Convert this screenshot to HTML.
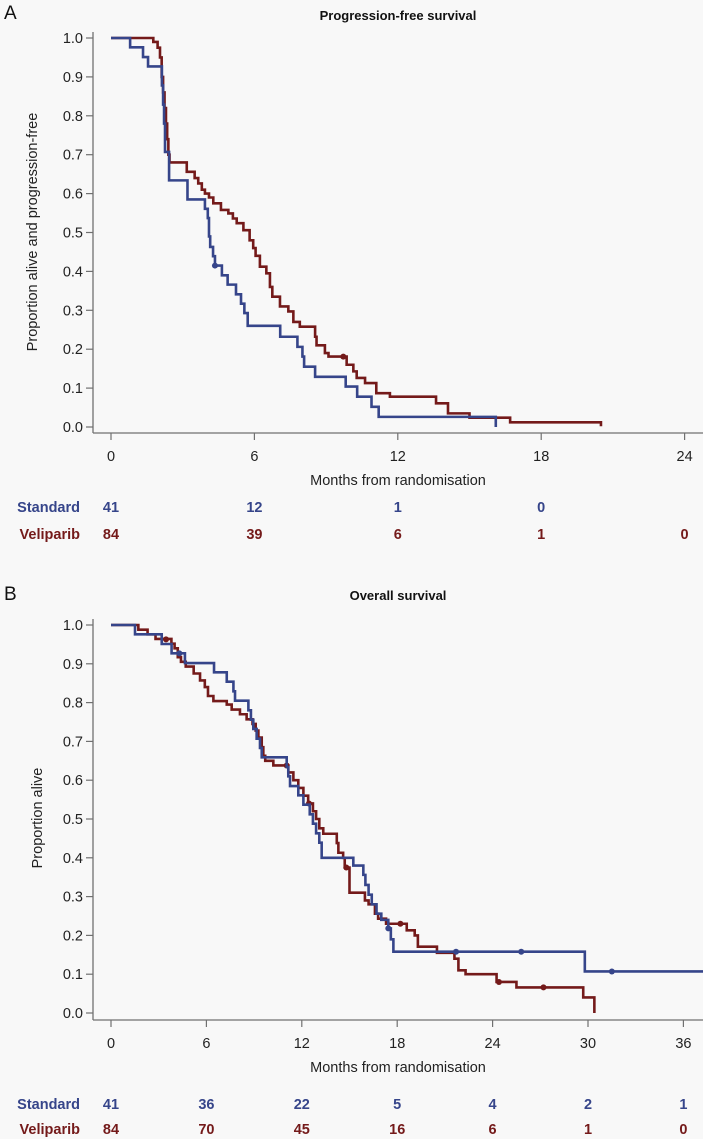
<!DOCTYPE html>
<html><head><meta charset="utf-8"><style>
html,body{margin:0;padding:0;background:#f8f8f8;}
svg{display:block;font-family:"Liberation Sans",Arial,sans-serif;}
</style></head><body>
<svg id="chart" width="703" height="1139" viewBox="0 0 703 1139" xmlns="http://www.w3.org/2000/svg">
<rect x="0" y="0" width="703" height="1139" fill="#f8f8f8"/>
</svg>
<script>
// ---- Panel A: progression-free survival ----
const pfsStdSteps = [[0,1],[0.8,0.976],[1.34,0.951],[1.55,0.927],[2.13,0.878],[2.18,0.829],[2.22,0.78],[2.26,0.707],[2.43,0.634],[3.2,0.585],[3.93,0.561],[4.05,0.537],[4.1,0.49],[4.15,0.463],[4.27,0.439],[4.35,0.415],[4.64,0.39],[4.88,0.366],[5.23,0.341],[5.44,0.317],[5.58,0.293],[5.72,0.26],[7.08,0.232],[7.8,0.206],[8.01,0.181],[8.08,0.155],[8.54,0.129],[9.82,0.104],[10.3,0.078],[10.9,0.052],[11.2,0.026],[16.1,0]];
const pfsStdEnd = 16.1;
const pfsStdCensor = [[4.35,0.415]];
const pfsVelSteps = [[0,1],[1.77,0.99],[1.95,0.975],[2.05,0.95],[2.12,0.90],[2.18,0.86],[2.24,0.82],[2.3,0.78],[2.35,0.74],[2.4,0.70],[2.45,0.68],[3.17,0.656],[3.5,0.64],[3.65,0.626],[3.8,0.61],[3.93,0.60],[4.1,0.59],[4.28,0.575],[4.6,0.558],[4.91,0.549],[5.1,0.536],[5.26,0.524],[5.54,0.506],[5.8,0.48],[5.95,0.46],[6.05,0.44],[6.23,0.412],[6.5,0.395],[6.65,0.36],[6.75,0.335],[7.07,0.31],[7.42,0.297],[7.63,0.27],[7.9,0.258],[8.54,0.232],[8.6,0.21],[8.95,0.19],[9.1,0.181],[9.86,0.16],[10.14,0.143],[10.28,0.126],[10.63,0.113],[11.1,0.087],[11.67,0.078],[13.6,0.061],[14.1,0.035],[15.0,0.024],[16.7,0.012],[20.5,0.002]];
const pfsVelEnd = 20.5;
const pfsVelCensor = [[9.72,0.181]];
const pfsXTicks = [0,6,12,18,24];
const pfsRiskStd = ["41","12","1","0",""];
const pfsRiskVel = ["84","39","6","1","0"];

// ---- Panel B: overall survival ----
const osStdSteps = [[0,1],[1.51,0.976],[3.19,0.951],[3.81,0.927],[4.65,0.902],[6.48,0.878],[7.28,0.854],[7.7,0.829],[7.8,0.805],[8.64,0.78],[8.8,0.756],[8.95,0.732],[9.16,0.707],[9.37,0.683],[9.48,0.659],[11.05,0.634],[11.15,0.61],[11.26,0.585],[11.78,0.561],[12.1,0.537],[12.5,0.512],[12.7,0.488],[12.9,0.463],[13.1,0.439],[13.25,0.40],[15.24,0.38],[15.87,0.356],[16.0,0.33],[16.2,0.305],[16.4,0.28],[16.7,0.256],[17.0,0.24],[17.44,0.218],[17.6,0.19],[17.76,0.158],[29.8,0.107]];
const osStdEnd = 37.3;
const osStdCensor = [[4.3,0.927],[17.44,0.218],[21.7,0.158],[25.8,0.158],[31.5,0.107]];
const osVelSteps = [[0,1],[1.72,0.988],[2.3,0.976],[2.8,0.964],[3.8,0.952],[4.0,0.94],[4.2,0.917],[4.4,0.905],[4.7,0.893],[5.2,0.875],[5.6,0.857],[5.9,0.84],[6.1,0.817],[6.44,0.804],[7.28,0.795],[7.59,0.782],[8.11,0.77],[8.53,0.757],[8.9,0.745],[9.1,0.728],[9.27,0.71],[9.48,0.685],[9.58,0.663],[9.7,0.65],[10.21,0.638],[11.15,0.62],[11.47,0.6],[11.78,0.58],[12.1,0.56],[12.4,0.54],[12.7,0.52],[12.9,0.5],[13.1,0.476],[13.35,0.462],[14.2,0.438],[14.3,0.413],[14.6,0.4],[14.7,0.375],[15.0,0.31],[15.97,0.29],[16.2,0.28],[16.6,0.256],[16.8,0.243],[17.3,0.23],[18.6,0.213],[19.1,0.2],[19.3,0.171],[20.5,0.155],[21.6,0.14],[21.85,0.11],[22.3,0.1],[24.25,0.08],[25.5,0.066],[29.7,0.04],[30.4,0.0]];
const osVelEnd = 30.4;
const osVelCensor = [[3.46,0.963],[11.05,0.638],[12.45,0.54],[14.8,0.375],[18.2,0.23],[24.4,0.08],[27.2,0.066]];
const osXTicks = [0,6,12,18,24,30,36];
const osRiskStd = ["41","36","22","5","4","2","1"];
const osRiskVel = ["84","70","45","16","6","1","0"];

const yTicks = [0,0.1,0.2,0.3,0.4,0.5,0.6,0.7,0.8,0.9,1.0];

const NS = "http://www.w3.org/2000/svg";
const svg = document.getElementById("chart");
const BLUE = "#36458a", RED = "#741a1a", AXIS = "#707070";

function mk(tag, attrs, parent, text) {
  const e = document.createElementNS(NS, tag);
  for (const k in attrs) e.setAttribute(k, attrs[k]);
  if (text !== undefined) e.textContent = text;
  (parent || svg).appendChild(e);
  return e;
}

function panel(cfg) {
  const g = mk("g", {});
  
  
  const xS = m => cfg.x0 + (m - 0) * cfg.pxPerMonth;
  const yS = v => cfg.y0 - v * cfg.pxPerUnit;

  const lab = mk("text", {x: 4, y: cfg.letterY, "font-size": 19, fill: "#111"}, g, cfg.letter);
  
  

  const ttl = mk("text", {x: 398, y: cfg.titleY, "font-size": 13, "font-weight": "bold", "text-anchor": "middle", fill: "#111"}, g, cfg.title);
  
  

  // axes
  const ya = mk("line", {x1: 93, y1: yS(1) - 6, x2: 93, y2: cfg.axisY, stroke: AXIS, "stroke-width": 1.3}, g);
  
  
  const xa = mk("line", {x1: 93, y1: cfg.axisY, x2: 703, y2: cfg.axisY, stroke: AXIS, "stroke-width": 1.3}, g);
  
  

  yTicks.forEach(t => {
    const tk = mk("line", {x1: 86, y1: yS(t), x2: 93, y2: yS(t), stroke: AXIS, "stroke-width": 1.2}, g);
    
    
    const tl = mk("text", {x: 83, y: yS(t) + 5, "font-size": 14.5, "text-anchor": "end", fill: "#222"}, g, t.toFixed(1));
    
    
  });
  cfg.xTicks.forEach(t => {
    const tk = mk("line", {x1: xS(t), y1: cfg.axisY, x2: xS(t), y2: cfg.axisY + 7, stroke: AXIS, "stroke-width": 1.2}, g);
    
    
    const tl = mk("text", {x: xS(t), y: cfg.axisY + 28, "font-size": 14.5, "text-anchor": "middle", fill: "#222"}, g, String(t));
    
    
  });
  const xt = mk("text", {x: 398, y: cfg.axisY + 52, "font-size": 14.5, "text-anchor": "middle", fill: "#222"}, g, "Months from randomisation");
  
  
  const yt = mk("text", {x: 0, y: 0, "font-size": 14.5, "text-anchor": "middle", fill: "#222", transform: `translate(${cfg.yTitleX},${cfg.yTitleY}) rotate(-90)`}, g, cfg.yTitle);
  
  

  function curve(steps, end, censor, color, name) {
    let d = `M${xS(steps[0][0])},${yS(steps[0][1])}`;
    for (let i = 1; i < steps.length; i++) {
      d += ` H${xS(steps[i][0])} V${yS(steps[i][1])}`;
    }
    d += ` H${xS(end)}`;
    const p = mk("path", {d: d, fill: "none", stroke: color, "stroke-width": 2.6, "stroke-linejoin": "miter"}, g);
    
    
    censor.forEach(c => {
      const ci = mk("circle", {cx: xS(c[0]), cy: yS(c[1]), r: 3, fill: color}, g);
      
      
    });
  }
  curve(cfg.velSteps, cfg.velEnd, cfg.velCensor, RED, 'veliparib');
  curve(cfg.stdSteps, cfg.stdEnd, cfg.stdCensor, BLUE, 'standard');
  // redraw veliparib in top panel overlap order as in reference
  if (cfg.velOnTop) curve(cfg.velSteps, cfg.velEnd, cfg.velCensor, RED, 'veliparib');

  // risk table
  const rs = mk("text", {x: 80, y: cfg.riskY1 + 5, "font-size": 14.5, "font-weight": "bold", "text-anchor": "end", fill: BLUE}, g, "Standard");
  
  
  const rv = mk("text", {x: 80, y: cfg.riskY2 + 5, "font-size": 14.5, "font-weight": "bold", "text-anchor": "end", fill: RED}, g, "Veliparib");
  
  
  cfg.xTicks.forEach((t, i) => {
    const a = mk("text", {x: xS(t), y: cfg.riskY1 + 5, "font-size": 14.5, "font-weight": "bold", "text-anchor": "middle", fill: BLUE}, g, cfg.riskStd[i]);
    
    
    const b = mk("text", {x: xS(t), y: cfg.riskY2 + 5, "font-size": 14.5, "font-weight": "bold", "text-anchor": "middle", fill: RED}, g, cfg.riskVel[i]);
    
    
  });
}

panel({name: 'pfs-panel', letter: 'A', letterY: 19, title: 'Progression-free survival', titleY: 20,
  x0: 111, pxPerMonth: 23.9, y0: 427, pxPerUnit: 389, axisY: 433,
  yTitle: 'Proportion alive and progression-free', yTitleX: 37, yTitleY: 232,
  xTicks: pfsXTicks, riskStd: pfsRiskStd, riskVel: pfsRiskVel, riskY1: 507, riskY2: 534,
  stdSteps: pfsStdSteps, stdEnd: pfsStdEnd, stdCensor: pfsStdCensor,
  velSteps: pfsVelSteps, velEnd: pfsVelEnd, velCensor: pfsVelCensor, velOnTop: false});

panel({name: 'os-panel', letter: 'B', letterY: 600, title: 'Overall survival', titleY: 600,
  x0: 111, pxPerMonth: 15.9, y0: 1013, pxPerUnit: 388, axisY: 1020,
  yTitle: 'Proportion alive', yTitleX: 42, yTitleY: 818,
  xTicks: osXTicks, riskStd: osRiskStd, riskVel: osRiskVel, riskY1: 1104, riskY2: 1129,
  stdSteps: osStdSteps, stdEnd: osStdEnd, stdCensor: osStdCensor,
  velSteps: osVelSteps, velEnd: osVelEnd, velCensor: osVelCensor, velOnTop: false});
</script>
</body></html>
